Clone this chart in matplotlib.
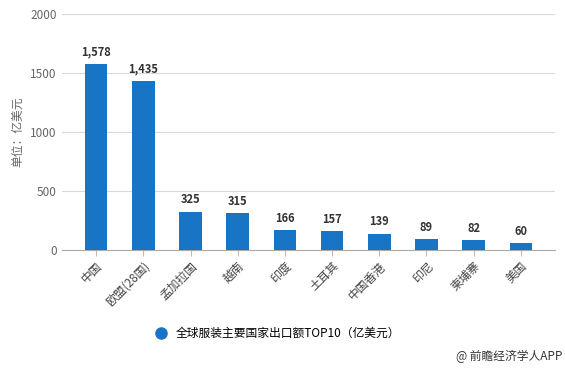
import matplotlib
matplotlib.use('Agg')
import matplotlib.pyplot as plt

plt.rcParams['font.family'] = ['Noto Sans CJK SC', 'DejaVu Sans']

countries = ['中国', '欧盟(28国)', '孟加拉国', '越南', '印度', '土耳其', '中国香港', '印尼', '柬埔寨', '美国']
values = [1578, 1435, 325, 315, 166, 157, 139, 89, 82, 60]
yticks = [0, 500, 1000, 1500, 2000]

bar_color = '#1874c4'
grey = '#666666'

fig = plt.figure(figsize=(5.65, 3.69), dpi=100)
ax = fig.add_axes([0.11, 0.3225, 0.872, 0.6395])

x = range(len(countries))
ax.bar(x, values, width=0.48, color=bar_color, zorder=3)
for xi, v in zip(x, values):
    ax.text(xi, v + 45, f'{v:,}', ha='center', va='bottom', fontsize=8, fontweight='bold', color='#333333')

ax.set_ylim(0, 2000)
ax.set_xlim(-0.72, len(countries) - 0.28)
ax.set_yticks(yticks)
ax.set_yticklabels([str(t) for t in yticks], fontsize=8.5, color=grey)
ax.set_xticks(list(x))
ax.set_xticklabels(countries, rotation=45, ha='right', rotation_mode='anchor', fontsize=8.5, color='#444444')
ax.tick_params(axis='y', length=0, pad=4)
ax.tick_params(axis='x', length=4, color='#bbbbbb', pad=3)
ax.grid(axis='y', color='#d9d9d9', linewidth=0.8, zorder=0)
for s in ['top', 'right', 'left']:
    ax.spines[s].set_visible(False)
ax.spines['bottom'].set_color('#aaaaaa')
ax.set_ylabel('单位：亿美元', fontsize=8.5, color=grey, labelpad=4)

fig.legend(handles=[plt.Line2D([], [], marker='o', linestyle='', color=bar_color, markersize=8)],
           labels=['全球服装主要国家出口额TOP10（亿美元）'], loc='center left',
           bbox_to_anchor=(0.245, 0.097), frameon=False, fontsize=8.5, handletextpad=0.3)
fig.text(0.995, 0.035, '@ 前瞻经济学人APP', ha='right', va='center', fontsize=8.5, color='#333333')

fig.savefig('out.png', dpi=100)
